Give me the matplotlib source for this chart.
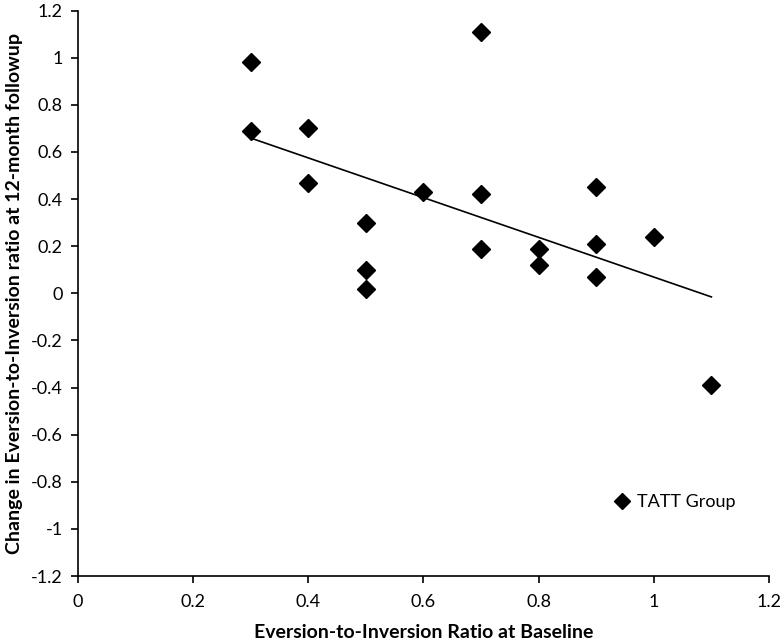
import numpy as np
import matplotlib.pyplot as plt

plt.rcParams['font.family'] = ['Lato', 'DejaVu Sans']

# baseline ratio vs change at 12-month followup
baseline = [0.3, 0.3, 0.4, 0.4, 0.5, 0.5, 0.5, 0.6, 0.7, 0.7, 0.7,
            0.8, 0.8, 0.9, 0.9, 0.9, 1.0, 1.1]
change = [0.98, 0.69, 0.70, 0.47, 0.30, 0.10, 0.02, 0.43, 1.11, 0.42, 0.19,
          0.19, 0.12, 0.45, 0.21, 0.07, 0.24, -0.39]

x_ticks = [0, 0.2, 0.4, 0.6, 0.8, 1, 1.2]
y_ticks = [-1.2, -1, -0.8, -0.6, -0.4, -0.2, 0, 0.2, 0.4, 0.6, 0.8, 1, 1.2]

fig = plt.figure(figsize=(7.83, 6.41), dpi=100)
ax = fig.add_axes([0.0996, 0.1014, 0.8825, 0.882])

ax.plot(baseline, change, 'D', color='black', markersize=9, label='TATT Group',
        zorder=3)

# linear trend line
slope, icpt = np.polyfit(baseline, change, 1)
xs = np.array([min(baseline), max(baseline)])
ax.plot(xs, slope * xs + icpt, color='black', lw=1.2, zorder=2)

ax.set_xlim(0, 1.2)
ax.set_ylim(-1.2, 1.2)
ax.set_xticks(x_ticks)
ax.set_xticklabels([f'{v:g}' for v in x_ticks])
ax.set_yticks(y_ticks)
ax.set_yticklabels([f'{v:g}' for v in y_ticks])
ax.tick_params(labelsize=13, length=5, width=1.2, colors='black')
ax.tick_params(axis='x', pad=8)
ax.tick_params(axis='y', pad=6)
for s in ['top', 'right']:
    ax.spines[s].set_visible(False)
for s in ['left', 'bottom']:
    ax.spines[s].set_linewidth(1.2)

ax.set_xlabel('Eversion-to-Inversion Ratio at Baseline', fontsize=14,
              fontweight='bold', labelpad=10)
ax.set_ylabel('Change in Eversion-to-Inversion ratio at 12-month followup',
              fontsize=14, fontweight='bold', labelpad=6)

ax.legend(loc='center left', bbox_to_anchor=(0.777, 0.131), frameon=False,
          fontsize=13, handlelength=0.8, handletextpad=0.4, markerscale=0.9,
          borderpad=0, borderaxespad=0)

fig.savefig('out.png', dpi=100)
